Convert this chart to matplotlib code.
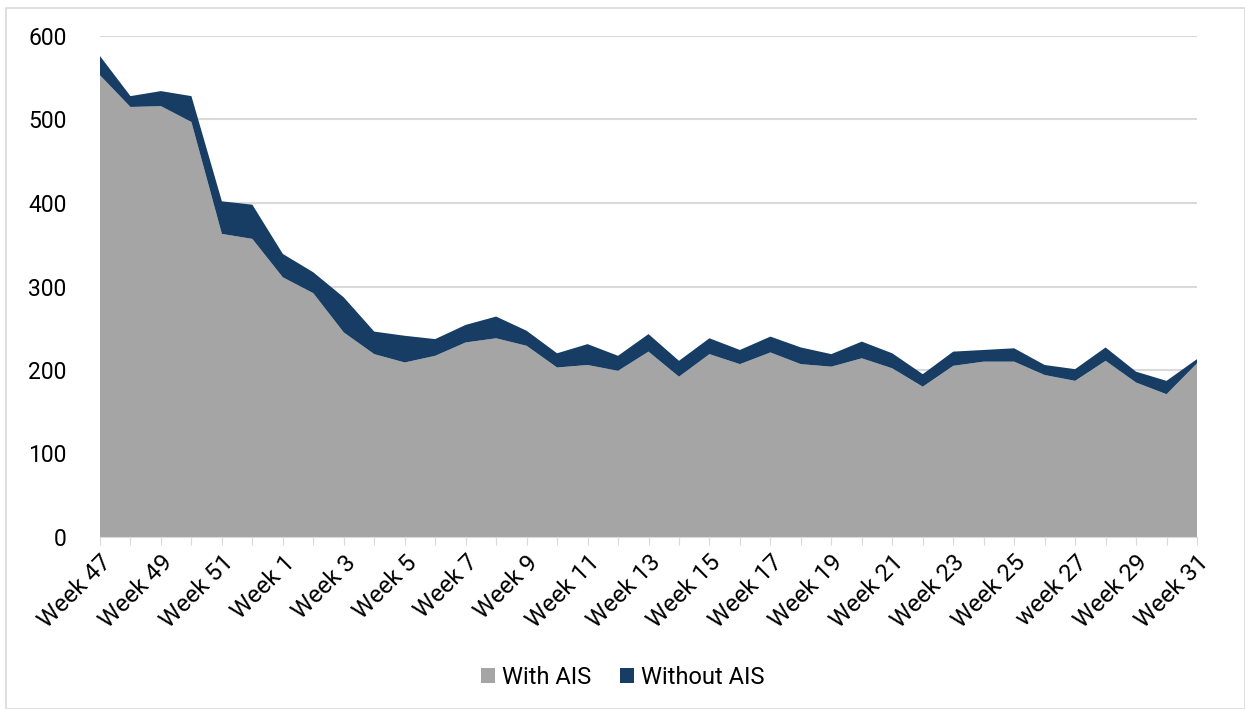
import matplotlib.pyplot as plt
import numpy as np

plt.rcParams['font.family'] = ['Roboto', 'DejaVu Sans']

# week labels, Week 47 (previous year) up to Week 31
weeks = ['Week 47', 'Week 48', 'Week 49', 'Week 50', 'Week 51', 'Week 52'] + \
        ['Week %d' % i for i in range(1, 32)]
weeks[weeks.index('Week 27')] = 'week 27'

total = [576, 528, 534, 528, 402, 398, 339, 317, 287, 246, 241, 237, 254, 264,
         247, 220, 231, 217, 243, 211, 238, 224, 240, 227, 219, 234, 220, 195,
         222, 224, 226, 206, 201, 227, 198, 187, 213]
with_ais = [553, 515, 516, 497, 363, 357, 311, 292, 245, 219, 209, 217, 233, 238,
            229, 203, 206, 199, 222, 192, 219, 207, 221, 207, 204, 214, 202, 180,
            205, 210, 210, 194, 187, 211, 185, 171, 208]
without_ais = [t - w for t, w in zip(total, with_ais)]

x = np.arange(len(weeks))

fig = plt.figure(figsize=(12.45, 7.09), dpi=100)
ax = fig.add_axes([100 / 1245, 1 - 537 / 709, 1097 / 1245, 501 / 709])

ax.stackplot(x, with_ais, without_ais, colors=['#a5a5a5', '#173d64'],
             labels=['With AIS', 'Without AIS'])

ax.set_xlim(0, len(weeks) - 1)
ax.set_ylim(0, 600)
ax.set_yticks(range(0, 601, 100))
ax.yaxis.grid(True, color='#d9d9d9', linewidth=1.5)
ax.set_axisbelow(True)

ax.set_xticks(x)
ax.set_xticklabels([w if i % 2 == 0 else '' for i, w in enumerate(weeks)],
                   rotation=45, ha='right', rotation_mode='anchor', fontsize=17.5)
ax.tick_params(axis='x', length=6, color='#d9d9d9', pad=4)
ax.tick_params(axis='y', length=0, labelsize=16.5, pad=24)

for s in ['top', 'right', 'left']:
    ax.spines[s].set_visible(False)
ax.spines['bottom'].set_color('#d9d9d9')

fig.legend(loc='center', bbox_to_anchor=(0.5, 1 - 677 / 709), ncol=2,
           frameon=False, fontsize=17, handlelength=0.6, handleheight=0.6,
           handletextpad=0.3, columnspacing=1.2)

# outer chart border
fig.patches.append(plt.Rectangle((6 / 1245, 0), 1 - 6 / 1245, 1 - 8 / 709,
                                 transform=fig.transFigure, fill=False,
                                 edgecolor='#d9d9d9', linewidth=1.2))

fig.savefig('out.png', dpi=100)
